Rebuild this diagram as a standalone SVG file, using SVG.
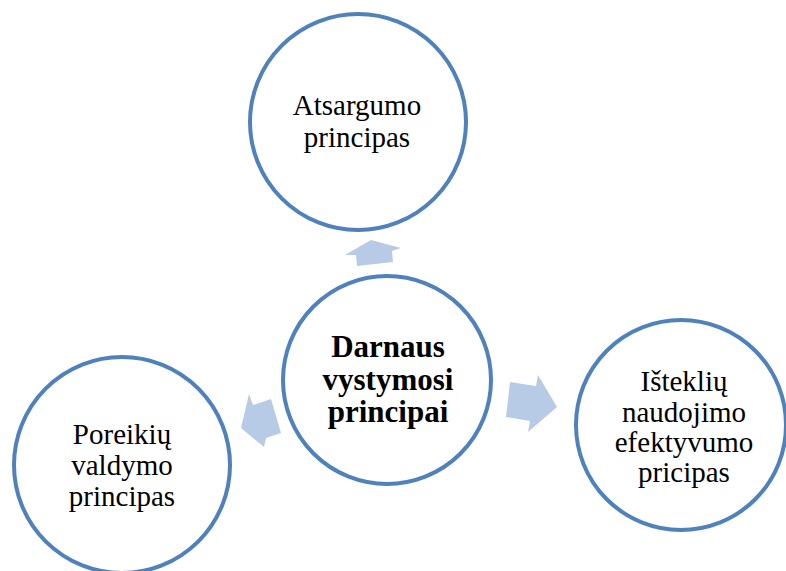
<svg xmlns="http://www.w3.org/2000/svg" width="786" height="571" viewBox="0 0 786 571">
<style>
.c{fill:#fff;stroke:#4F81BD;stroke-width:4}
.a{fill:#B7CBE6;stroke:none}
.t{font-family:"Liberation Serif","Times New Roman",serif;font-size:29px;fill:#000;text-anchor:middle}
.b{font-family:"Liberation Serif","Times New Roman",serif;font-size:31px;font-weight:bold;fill:#000;text-anchor:middle}
</style>
<rect width="786" height="571" fill="#fff"/>
<g id="connectors">
<polygon class="a" points="371,240 401,248 392,251 393,262 357,266 356,255 345,255"/>
<polygon class="a" points="241,428 249,394 253,405 271,399 281,433 266,438 264,447"/>
<polygon class="a" points="510,382 536,386 538,375 557,407 528,432 530,421 506,417"/>
</g>
<g id="top">
<circle class="c" cx="358" cy="122" r="108"/>
<text class="t" x="357" y="115">Atsargumo</text>
<text class="t" x="357" y="147">principas</text>
</g>
<g id="center">
<circle class="c" cx="387" cy="380" r="104"/>
<text class="b" x="388" y="357">Darnaus</text>
<text class="b" x="388" y="390">vystymosi</text>
<text class="b" x="388" y="422">principai</text>
</g>
<g id="left">
<circle class="c" cx="122" cy="465" r="108"/>
<text class="t" x="122" y="444">Poreikių</text>
<text class="t" x="122" y="475">valdymo</text>
<text class="t" x="122" y="506">principas</text>
</g>
<g id="right">
<circle class="c" cx="681" cy="425" r="105"/>
<text class="t" x="684" y="391">Išteklių</text>
<text class="t" x="684" y="422">naudojimo</text>
<text class="t" x="684" y="452">efektyvumo</text>
<text class="t" x="684" y="482">pricipas</text>
</g>
</svg>
